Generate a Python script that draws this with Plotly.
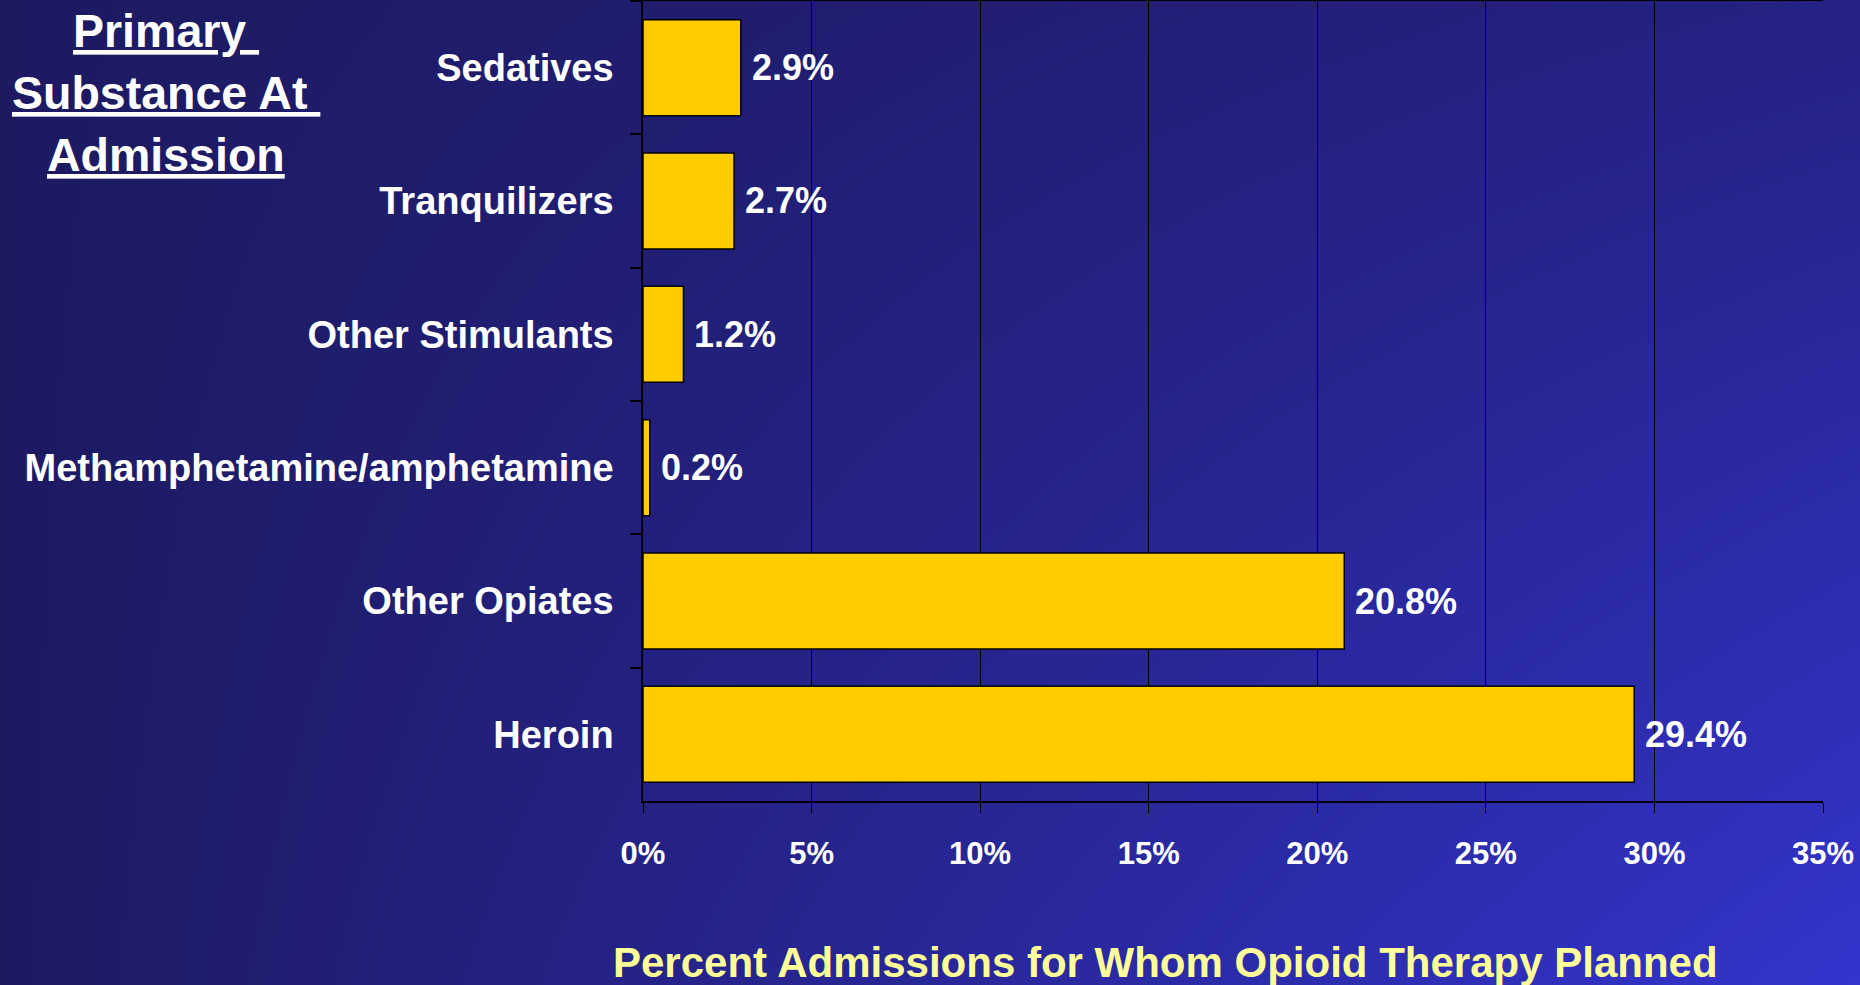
import numpy as np
import plotly.graph_objects as go

# ---- data ----
categories = ["Sedatives", "Tranquilizers", "Other Stimulants",
              "Methamphetamine/amphetamine", "Other Opiates", "Heroin"]
values = [2.9, 2.7, 1.2, 0.2, 20.8, 29.4]
x_ticks = [0, 5, 10, 15, 20, 25, 30, 35]
x_tick_labels = [f"{v}%" for v in x_ticks]
title_lines = ["Primary&nbsp;", "Substance At&nbsp;", "Admission"]
axis_title = "Percent Admissions for Whom Opioid Therapy Planned"

W, H = 1860, 985
FONT = "Liberation Sans"

# ---- background gradient (decoration) ----
n = 60
gx = np.linspace(0, 1, n)
gy = np.linspace(0, 1, n)  # 0 bottom, 1 top
GX, GY = np.meshgrid(gx, gy)
Z = GX * (0.3 + 0.7 * (1 - GY))

fig = go.Figure()
fig.add_trace(go.Heatmap(
    x=gx, y=gy, z=Z, zsmooth="best", showscale=False, hoverinfo="skip",
    colorscale=[[0, "#1D1A62"], [1, "#3434CE"]], xaxis="x", yaxis="y",
))

fig.add_trace(go.Bar(
    x=values, y=categories, orientation="h", width=0.72,
    marker=dict(color="#FFCC00", line=dict(color="black", width=1.5)),
    xaxis="x2", yaxis="y2", cliponaxis=False,
))

annotations = []
for c, v in zip(categories, values):
    annotations.append(dict(
        x=v, y=c, xref="x2", yref="y2", text=f"{v:.1f}%", showarrow=False,
        xanchor="left", yanchor="middle", xshift=9,
        font=dict(family=FONT, size=36, color="white", weight="bold"),
    ))

title_y = [31, 93, 155]
for t, yy in zip(title_lines, title_y):
    annotations.append(dict(
        x=166 / W, y=1 - yy / H, xref="paper", yref="paper",
        text=f"<u>{t}</u>", showarrow=False, xanchor="center", yanchor="middle",
        font=dict(family=FONT, size=46.5, color="white", weight="bold"),
    ))

annotations.append(dict(
    x=1165 / W, y=1 - 962 / H, xref="paper", yref="paper", text=axis_title,
    showarrow=False, xanchor="center", yanchor="middle",
    font=dict(family=FONT, size=42, color="#FFFF99", weight="bold"),
))

fig.update_layout(
    width=W, height=H, margin=dict(l=0, r=0, t=0, b=0, pad=0, autoexpand=False),
    paper_bgcolor="#1D1A62", plot_bgcolor="rgba(0,0,0,0)",
    showlegend=False,
    xaxis=dict(domain=[0, 1], range=[0, 1], visible=False, fixedrange=True,
               automargin=False),
    yaxis=dict(domain=[0, 1], range=[0, 1], visible=False, fixedrange=True,
               automargin=False),
    xaxis2=dict(
        domain=[643 / W, 1823 / W], range=[0, 35], anchor="y2", automargin=False,
        tickvals=x_ticks, ticktext=x_tick_labels,
        showgrid=True, gridcolor="black", gridwidth=1,
        showline=True, linecolor="black", linewidth=1.5, mirror=True,
        ticks="outside", ticklen=10, tickcolor="black", tickwidth=1,
        ticklabelstandoff=14, zeroline=False,
        tickfont=dict(family=FONT, size=31, color="white", weight="bold"),
    ),
    yaxis2=dict(
        domain=[1 - 801 / H, 1 - 1 / H], anchor="x2", automargin=False,
        autorange="reversed", type="category",
        showline=True, linecolor="black", linewidth=1.5,
        ticks="outside", tickson="boundaries", ticklen=11,
        tickcolor="black", tickwidth=1.5, ticklabelstandoff=20,
        showgrid=False,
        tickfont=dict(family=FONT, size=38, color="white", weight="bold"),
    ),
    annotations=annotations,
)

fig.write_html(
    "out.html",
    config={"displayModeBar": False},
    post_script="document.body.style.margin='0';document.body.style.overflow='hidden';",
)
